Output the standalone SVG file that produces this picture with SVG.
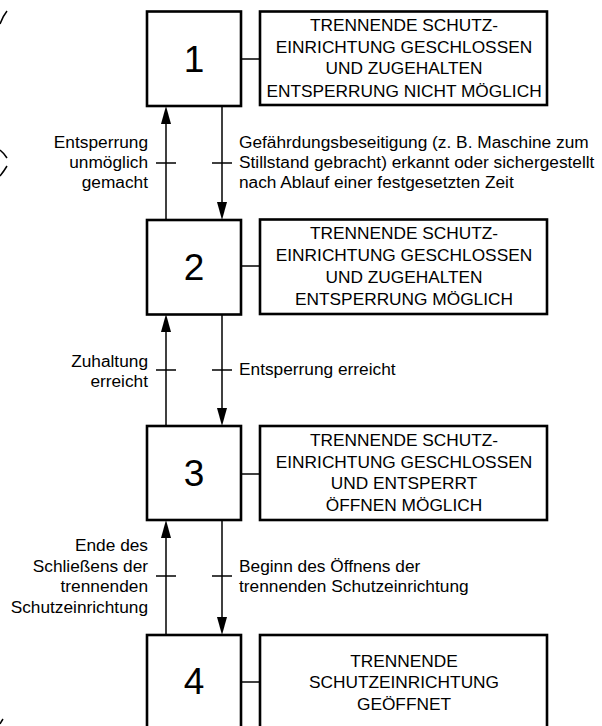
<svg xmlns="http://www.w3.org/2000/svg" width="602" height="726" viewBox="0 0 602 726">
<defs>
<style>
.box{fill:#fff;stroke:#000;stroke-width:2.6}
.ln{fill:none;stroke:#000;stroke-width:1.5}
.head{fill:#000;stroke:none}
.num{font-family:"Liberation Sans",Arial,sans-serif;font-size:37px;text-anchor:middle;fill:#000}
.st{font-family:"Liberation Sans",Arial,sans-serif;font-size:17.3px;text-anchor:middle;fill:#000}
.lbl{font-family:"Liberation Sans",Arial,sans-serif;font-size:17.3px;fill:#000}
.r{text-anchor:end}
</style>
</defs>
<rect width="602" height="726" fill="#fff"/>
<g id="edge-fragments" class="ln" stroke-width="1.3">
<path d="M7,11 Q3,16 0,24"/>
<path d="M0,150 Q4,153 7,158"/>
<path d="M7,166 Q4,171 0,176"/>
<path d="M3,719 Q1,722 0,724"/>
</g>
<g id="connectors">
<line class="ln" x1="241" y1="59" x2="260" y2="59"/>
<line class="ln" x1="241" y1="266" x2="260" y2="266"/>
<line class="ln" x1="241" y1="474" x2="260" y2="474"/>
<line class="ln" x1="241" y1="682" x2="260" y2="682"/>
<line class="ln" x1="166" y1="220" x2="166" y2="120"/>
<polygon class="head" points="166,106 161,124 171,124"/>
<line class="ln" x1="222" y1="106" x2="222" y2="206"/>
<polygon class="head" points="222,220 217,202 227,202"/>
<line class="ln" x1="156" y1="163" x2="176" y2="163"/>
<line class="ln" x1="212" y1="163" x2="232" y2="163"/>
<line class="ln" x1="166" y1="426" x2="166" y2="328"/>
<polygon class="head" points="166,314 161,332 171,332"/>
<line class="ln" x1="222" y1="314" x2="222" y2="412"/>
<polygon class="head" points="222,426 217,408 227,408"/>
<line class="ln" x1="156" y1="370" x2="176" y2="370"/>
<line class="ln" x1="212" y1="370" x2="232" y2="370"/>
<line class="ln" x1="166" y1="635" x2="166" y2="534"/>
<polygon class="head" points="166,520 161,538 171,538"/>
<line class="ln" x1="222" y1="520" x2="222" y2="621"/>
<polygon class="head" points="222,635 217,617 227,617"/>
<line class="ln" x1="156" y1="576" x2="176" y2="576"/>
<line class="ln" x1="212" y1="576" x2="232" y2="576"/>
<text class="lbl r" x="148" y="147.5">Entsperrung</text>
<text class="lbl r" x="148" y="168">unmöglich</text>
<text class="lbl r" x="148" y="188">gemacht</text>
<text class="lbl" x="239" y="147.5">Gefährdungsbeseitigung (z. B. Maschine zum</text>
<text class="lbl" x="239" y="168">Stillstand gebracht) erkannt oder sichergestellt</text>
<text class="lbl" x="239" y="188">nach Ablauf einer festgesetzten Zeit</text>
<text class="lbl r" x="148" y="367">Zuhaltung</text>
<text class="lbl r" x="148" y="386.5">erreicht</text>
<text class="lbl" x="239" y="375">Entsperrung erreicht</text>
<text class="lbl r" x="148" y="551">Ende des</text>
<text class="lbl r" x="148" y="571.5">Schließens der</text>
<text class="lbl r" x="148" y="592">trennenden</text>
<text class="lbl r" x="148" y="612.5">Schutzeinrichtung</text>
<text class="lbl" x="239" y="571.5">Beginn des Öffnens der</text>
<text class="lbl" x="239" y="592">trennenden Schutzeinrichtung</text>
</g>
<g id="step1">
<rect class="box" x="147" y="11.5" width="94" height="94.5"/>
<text class="num" x="194" y="72">1</text>
</g>
<g id="state1">
<rect class="box" x="260" y="11.5" width="287" height="93.5"/>
<text class="st" x="404" y="30.5">TRENNENDE SCHUTZ-</text>
<text class="st" x="404" y="52.5">EINRICHTUNG GESCHLOSSEN</text>
<text class="st" x="404" y="74">UND ZUGEHALTEN</text>
<text class="st" x="404" y="96.5">ENTSPERRUNG NICHT MÖGLICH</text>
</g>
<g id="step2">
<rect class="box" x="147" y="220" width="94" height="94.5"/>
<text class="num" x="194" y="280">2</text>
</g>
<g id="state2">
<rect class="box" x="260" y="219.5" width="287" height="94.5"/>
<text class="st" x="404" y="239">TRENNENDE SCHUTZ-</text>
<text class="st" x="404" y="261">EINRICHTUNG GESCHLOSSEN</text>
<text class="st" x="404" y="282.5">UND ZUGEHALTEN</text>
<text class="st" x="404" y="305">ENTSPERRUNG MÖGLICH</text>
</g>
<g id="step3">
<rect class="box" x="147" y="426" width="94" height="94"/>
<text class="num" x="194" y="486">3</text>
</g>
<g id="state3">
<rect class="box" x="260" y="426" width="287" height="94"/>
<text class="st" x="404" y="446">TRENNENDE SCHUTZ-</text>
<text class="st" x="404" y="467.5">EINRICHTUNG GESCHLOSSEN</text>
<text class="st" x="404" y="489">UND ENTSPERRT</text>
<text class="st" x="404" y="511">ÖFFNEN MÖGLICH</text>
</g>
<g id="step4">
<rect class="box" x="147" y="635" width="94" height="96"/>
<text class="num" x="194" y="694">4</text>
</g>
<g id="state4">
<rect class="box" x="260" y="635" width="287" height="96"/>
<text class="st" x="404" y="666.5">TRENNENDE</text>
<text class="st" x="404" y="688">SCHUTZEINRICHTUNG</text>
<text class="st" x="404" y="709.5">GEÖFFNET</text>
</g>
</svg>
